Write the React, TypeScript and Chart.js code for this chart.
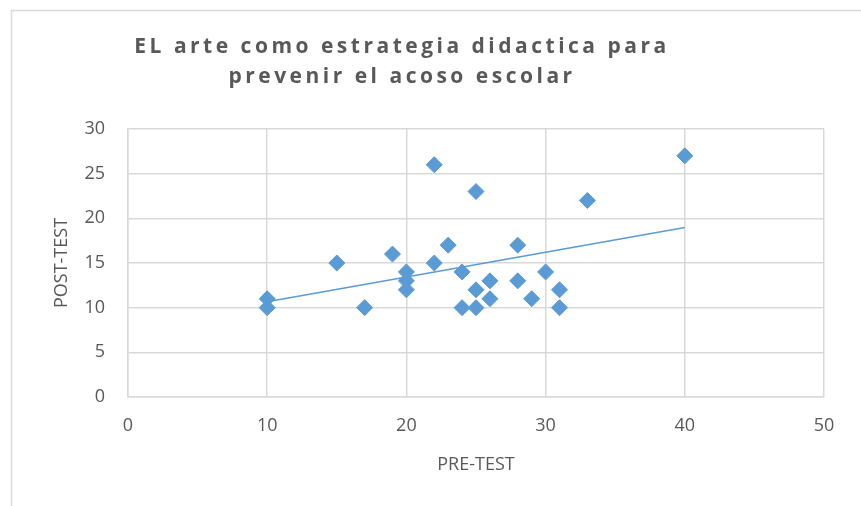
import React, { useEffect, useRef } from "react";
import { Chart, registerables } from "chart.js";

Chart.register(...registerables);

const titleLines = ["EL arte como estrategia didactica para", "prevenir el acoso escolar"];
const xAxisTitle = "PRE-TEST";
const yAxisTitle = "POST-TEST";

const preTest = [10, 10, 15, 17, 19, 20, 20, 20, 22, 22, 23, 24, 24, 25, 25, 25, 26, 26, 28, 28, 29, 30, 31, 31, 33, 40];
const postTest = [11, 10, 15, 10, 16, 14, 13, 12, 26, 15, 17, 14, 10, 23, 12, 10, 13, 11, 17, 13, 11, 14, 12, 10, 22, 27];

const xMin = 0, xMax = 50, xStep = 10;
const yMin = 0, yMax = 30, yStep = 5;

const BLUE = "#5b9bd5";
const GRID = "#d9d9d9";
const TEXT = "#595959";
const FONT = "'Open Sans', 'Liberation Sans', sans-serif";

function trend() {
  const n = preTest.length;
  const mx = preTest.reduce((a, b) => a + b, 0) / n;
  const my = postTest.reduce((a, b) => a + b, 0) / n;
  let sxy = 0, sxx = 0;
  for (let i = 0; i < n; i++) {
    sxy += (preTest[i] - mx) * (postTest[i] - my);
    sxx += (preTest[i] - mx) ** 2;
  }
  const b = sxy / sxx;
  const a = my - b * mx;
  const lo = Math.min(...preTest);
  const hi = Math.max(...preTest);
  return [
    { x: lo, y: a + b * lo },
    { x: hi, y: a + b * hi },
  ];
}

const framePlugin = {
  id: "frame",
  beforeDraw(chart: any) {
    const ctx = chart.ctx;
    ctx.save();
    ctx.fillStyle = "#ffffff";
    ctx.fillRect(0, 0, chart.width, chart.height);
    ctx.strokeStyle = GRID;
    ctx.lineWidth = 1.5;
    ctx.beginPath();
    ctx.moveTo(11.5, chart.height);
    ctx.lineTo(11.5, 10.5);
    ctx.lineTo(chart.width, 10.5);
    ctx.stroke();
    ctx.restore();
  },
  afterDraw(chart: any) {
    const ctx = chart.ctx;
    ctx.save();
    ctx.fillStyle = TEXT;
    ctx.font = `bold 21px ${FONT}`;
    (ctx as any).letterSpacing = "3.5px";
    ctx.textAlign = "center";
    ctx.textBaseline = "middle";
    ctx.fillText(titleLines[0], 402, 47);
    ctx.fillText(titleLines[1], 402, 77);
    ctx.restore();
  },
};

export default function App() {
  const ref = useRef<HTMLCanvasElement | null>(null);
  useEffect(() => {
    if (!ref.current) return;
    const points = preTest.map((x, i) => ({ x, y: postTest[i] }));
    const chart = new Chart(ref.current, {
      type: "scatter",
      data: {
        datasets: [
          {
            type: "line",
            data: trend(),
            borderColor: BLUE,
            borderWidth: 1.5,
            pointRadius: 0,
            fill: false,
          } as any,
          {
            data: points,
            pointStyle: "rectRot",
            pointRadius: 8,
            backgroundColor: BLUE,
            borderColor: BLUE,
            borderWidth: 1,
          },
        ],
      },
      options: {
        animation: false,
        responsive: false,
        devicePixelRatio: 1,
        layout: { padding: { left: 47, right: 37, top: 129, bottom: 26 } },
        plugins: { legend: { display: false }, tooltip: { enabled: false }, title: { display: false } },
        scales: {
          x: {
            type: "linear",
            min: xMin,
            max: xMax,
            ticks: { stepSize: xStep, padding: 18, color: TEXT, font: { family: FONT, size: 18 } },
            grid: { color: GRID, lineWidth: 1.5, drawTicks: false },
            border: { color: GRID, width: 1.5 },
            title: { display: true, text: xAxisTitle, color: TEXT, font: { family: FONT, size: 18 }, padding: { top: 4, bottom: 4 } },
            afterFit: (s: any) => { s.height = 83; },
          },
          y: {
            type: "linear",
            min: yMin,
            max: yMax,
            ticks: { stepSize: yStep, padding: 23, color: TEXT, font: { family: FONT, size: 18 } },
            grid: { color: GRID, lineWidth: 1.5, drawTicks: false },
            border: { color: GRID, width: 1.5 },
            title: { display: true, text: yAxisTitle, color: TEXT, font: { family: FONT, size: 18 }, padding: { top: 4, bottom: 4 } },
            afterFit: (s: any) => { s.width = 81; },
          },
        },
      },
      plugins: [framePlugin],
    });
    return () => chart.destroy();
  }, []);
  return (
    <div style={{ position: "fixed", left: 0, top: 0, width: 861, height: 506, overflow: "hidden", background: "#fff" }}>
      <canvas ref={ref} width={861} height={506} style={{ display: "block", width: 861, height: 506 }} />
    </div>
  );
}
